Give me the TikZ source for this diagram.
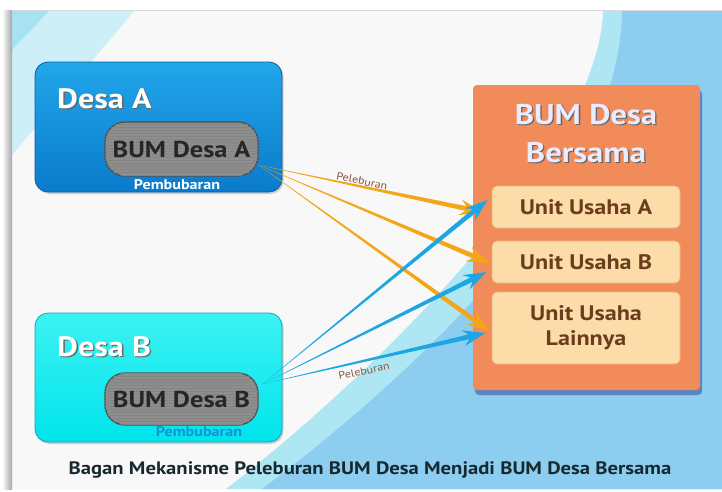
\documentclass[tikz,border=0pt]{standalone}
\usepackage{fontspec}
\setmainfont{PT Sans}[FakeStretch=1.15]
\usetikzlibrary{calc,shadows,patterns}
\definecolor{bgmain}{HTML}{F8F8F8}
\definecolor{bgblue}{HTML}{8CCDF0}
\definecolor{bgcyan}{HTML}{AEE7F3}
\definecolor{bglight}{HTML}{CDEFF7}
\definecolor{desaAtop}{HTML}{22A6EA}
\definecolor{desaAbot}{HTML}{0A7BCB}
\definecolor{desaAline}{HTML}{0B5E9E}
\definecolor{desaBtop}{HTML}{3CF2F2}
\definecolor{desaBbot}{HTML}{00E4EC}
\definecolor{desaBline}{HTML}{10A8B8}
\definecolor{pillgray}{HTML}{8E8E8E}
\definecolor{pillline}{HTML}{4E4E4E}
\definecolor{orangebox}{HTML}{F28B5A}
\definecolor{unitfill}{HTML}{FCDCA8}
\definecolor{unitline}{HTML}{E9B47E}
\definecolor{unittext}{HTML}{6A3E1C}
\definecolor{arrorange}{HTML}{F5A618}
\definecolor{arrblue}{HTML}{1EA6E2}
\definecolor{pelebtext}{HTML}{8A5242}
\definecolor{titletext}{HTML}{17282E}
\definecolor{pembB}{HTML}{1492D2}
\newcommand\shtext[2][black!60]{\makebox[0pt][l]{\kern1.3pt\raisebox{-1.3pt}{\textcolor{#1}{#2}}}#2}
\newcommand\mytaper[3]{%
  \fill[#3] (#1) -- ($(#2)!17pt!(#1)!2.4pt!90:(#1)$) -- ($(#2)!23pt!(#1)!8pt!90:(#1)$) -- (#2)
  -- ($(#2)!23pt!(#1)!8pt!-90:(#1)$) -- ($(#2)!17pt!(#1)!2.4pt!-90:(#1)$) -- cycle;}
\begin{document}
\begin{tikzpicture}[x=1pt,y=-1pt,
  desabox/.style={rounded corners=13pt, minimum width=247pt, line width=0.8pt, inner sep=0pt,
    drop shadow={shadow xshift=1.5pt,shadow yshift=-2pt,opacity=0.35}},
  pill/.style={rounded corners=20pt, minimum width=153pt, fill=pillgray, draw=pillline,
    line width=1.3pt, inner sep=0pt},
  pilltext/.style={font=\fontsize{23}{26}\selectfont\bfseries, text=black!85, inner sep=0pt},
  desalbl/.style={anchor=west, text=white, font=\fontsize{28}{32}\selectfont\bfseries, inner sep=0pt},
  pemb/.style={font=\fontsize{14}{16}\selectfont\bfseries, inner sep=0pt},
  unitbox/.style={rounded corners=5pt, minimum width=188pt, fill=unitfill, draw=unitline,
    line width=0.8pt, text=unittext, align=center, inner sep=0pt,
    font=\fontsize{21}{25}\selectfont\bfseries},
  peleb/.style={text=pelebtext, font=\fontsize{10.5}{13}\selectfont, inner sep=0pt}
]
\useasboundingbox (0,0) rectangle (722,491);
% background
\fill[white] (0,0) rectangle (722,491);
\fill[bgmain] (12,10) rectangle (722,489);
\fill[bglight] (12,10) -- (135,10) -- (12,155) -- cycle;
\fill[bgcyan!80!bgblue] (12,10) -- (50,10) -- (12,50) -- cycle;
\fill[bgcyan] (226,489) .. controls (380,370) and (600,150) .. (603,10) -- (722,10) -- (722,489) -- cycle;
\fill[bgblue] (262,489) .. controls (420,370) and (622,180) .. (622,10) -- (722,10) -- (722,489) -- cycle;
\shade[left color=white, right color=black!35] (2,10) rectangle (12,489);
\draw[black!15, line width=0.6pt] (12,10) -- (722,10);
% Desa A
\node[desabox, minimum height=130pt, top color=desaAtop, bottom color=desaAbot, draw=desaAline] (desaA) at (158.5,127) {};
\node[desalbl] (desaAlbl) at (57,99) {\shtext{Desa A}};
\node[pill, minimum height=54pt, postaction={pattern=horizontal lines, pattern color=pillgray!93!black}] (bumA) at (181.5,149) {};
\node[pilltext] (bumAlbl) at (bumA) {BUM Desa A};
\node[pemb, text=white] (pembA) at (177,184.5) {Pembubaran};
% Desa B
\node[desabox, minimum height=129pt, top color=desaBtop, bottom color=desaBbot, draw=desaBline] (desaB) at (158.5,377.5) {};
\node[desalbl] (desaBlbl) at (57,347) {\shtext{Desa B}};
\node[pill, minimum height=52pt, postaction={pattern=horizontal lines, pattern color=pillgray!93!black}] (bumB) at (181.5,399) {};
\node[pilltext] (bumBlbl) at (bumB) {BUM Desa B};
\node[pemb, text=pembB] (pembBlbl) at (199,432) {Pembubaran};
% BUM Desa Bersama
\node[fill=orangebox, minimum width=227pt, minimum height=305pt, rounded corners=4pt, inner sep=0pt,
  drop shadow={shadow xshift=2pt,shadow yshift=-5pt,opacity=0.35,fill=black!60!blue}] (bersama) at (586.5,237.5) {};
\node[text=blue!8!white, font=\fontsize{28.5}{38}\selectfont\bfseries, align=center, inner sep=0pt] (bersamalbl) at (586,134)
  {\shtext{BUM Desa}\\\shtext{Bersama}};
\node[unitbox, minimum height=42pt] (unitA) at (586,207) {Unit Usaha A};
\node[unitbox, minimum height=42pt] (unitB) at (586,262) {Unit Usaha B};
\node[unitbox, minimum height=72pt] (unitL) at (586,328) {Unit Usaha\\Lainnya};
% arrow end points
\coordinate (sA) at ($(bumA.east)+(0,16)$);
\coordinate (sB) at ($(bumB.east)+(4,-15)$);
\coordinate (oA) at ($(unitA.west)+(-9,5)$);
\coordinate (bA) at ($(unitA.west)+(-4,-7)$);
\coordinate (oB) at ($(unitB.west)+(-2,1)$);
\coordinate (bB) at ($(unitB.west)+(-5,10)$);
\coordinate (oL) at ($(unitL.west)+(-2,3)$);
\coordinate (bL) at ($(unitL.west)+(-6,5)$);
\mytaper{sA}{oA}{arrorange}
\mytaper{sA}{oB}{arrorange}
\mytaper{sA}{oL}{arrorange}
\mytaper{sB}{bA}{arrblue}
\mytaper{sB}{bB}{arrblue}
\mytaper{sB}{bL}{arrblue}
\node[peleb, rotate=-12] (peleb1) at (362,181) {Peleburan};
\node[peleb, rotate=12] (peleb2) at (364,371) {Peleburan};
% title
\node[text=titletext, font=\fontsize{18}{22}\selectfont\bfseries, inner sep=0pt] (title) at (370,470)
  {Bagan Mekanisme Peleburan BUM Desa Menjadi BUM Desa Bersama};
\end{tikzpicture}
\end{document}
